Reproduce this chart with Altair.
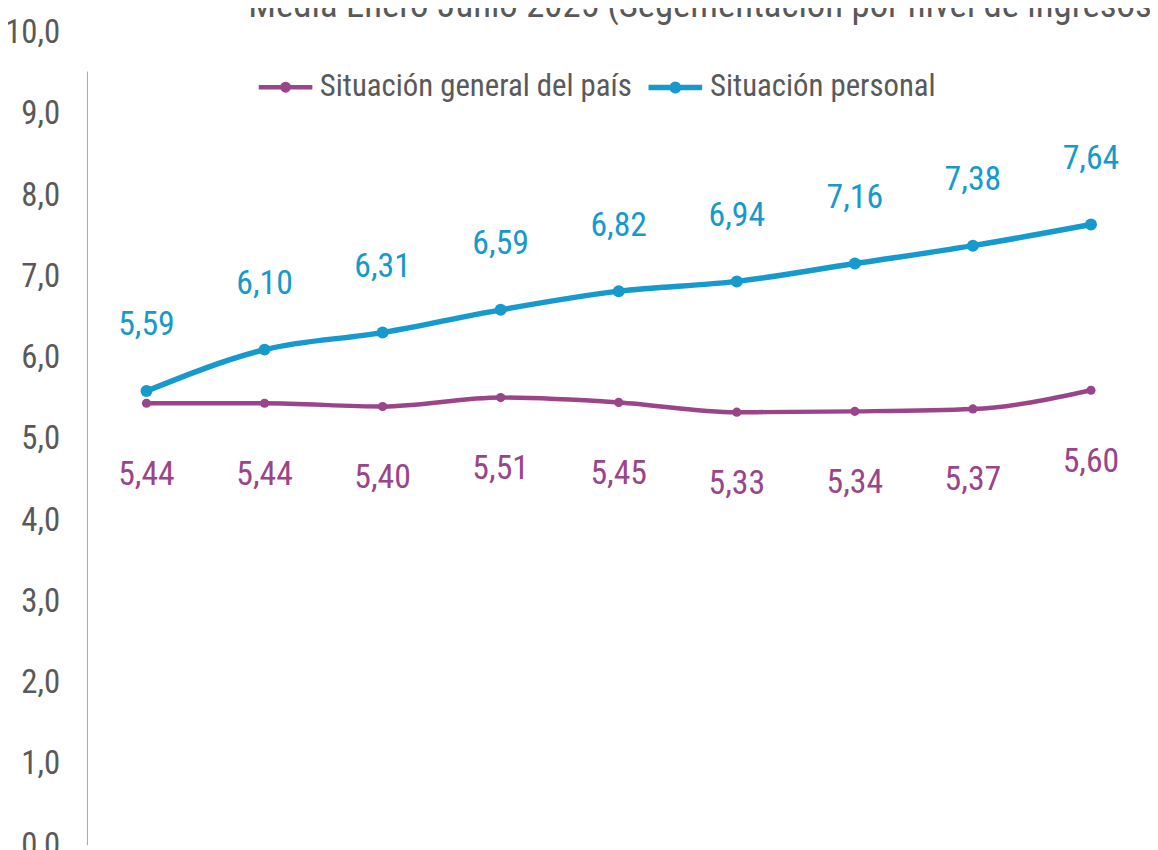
import altair as alt
import pandas as pd

categories = ["1", "2", "3", "4", "5", "6", "7", "8", "9"]
series_names = ["Situación general del país", "Situación personal"]
general = [5.44, 5.44, 5.40, 5.51, 5.45, 5.33, 5.34, 5.37, 5.60]
personal = [5.59, 6.10, 6.31, 6.59, 6.82, 6.94, 7.16, 7.38, 7.64]
y_ticks = [0, 1, 2, 3, 4, 5, 6, 7, 8, 9, 10]
title_text = "Media Enero-Junio 2025 (Segementación por nivel de ingresos)"

rows = []
for i, c in enumerate(categories):
    rows.append({"idx": i + 1, "cat": c, "serie": series_names[0], "valor": general[i]})
    rows.append({"idx": i + 1, "cat": c, "serie": series_names[1], "valor": personal[i]})
df = pd.DataFrame(rows)
df["label"] = df["valor"].map(lambda v: f"{v:.2f}".replace(".", ","))

FONT = "'Liberation Sans Narrow', 'Arial Narrow', 'Roboto Condensed', 'DejaVu Sans Condensed', Roboto, sans-serif"
PURPLE = "#9A4489"
BLUE = "#1699CC"
GRAY = "#595959"

color_scale = alt.Scale(domain=series_names, range=[PURPLE, BLUE])
x_enc = alt.X("idx:Q", scale=alt.Scale(domain=[0.5, 9.5]), axis=None)
y_scale = alt.Scale(domain=[0, 10], nice=False)

base = alt.Chart(df)
gen = base.transform_filter(alt.datum.serie == series_names[0])
per = base.transform_filter(alt.datum.serie == series_names[1])

legend_path = ("M-1,0H1 "
               "M-0.12,0A0.12,0.12 0 1,0 0.12,0A0.12,0.12 0 1,0 -0.12,0")

lines = base.mark_line(interpolate="monotone").encode(
    x=x_enc,
    y=alt.Y("valor:Q", scale=y_scale,
            axis=alt.Axis(values=y_ticks, title=None, domain=False, ticks=False, grid=False,
                          labelExpr="replace(format(datum.value,'.1f'),'.',',')",
                          labelFont=FONT, labelFontSize=33, labelColor=GRAY,
                          labelPadding=28)),
    color=alt.Color("serie:N", scale=color_scale,
                    legend=alt.Legend(orient="none", legendX=170, legendY=25, direction="horizontal",
                                      title=None, symbolType=legend_path, symbolSize=2916,
                                      symbolStrokeWidth=5,
                                      labelFont=FONT, labelFontSize=31, labelColor=GRAY,
                                      labelOffset=5, columnPadding=5, labelLimit=600)),
    strokeWidth=alt.StrokeWidth("serie:N", scale=alt.Scale(domain=series_names, range=[4.5, 5.5]), legend=None),
)

points_gen = gen.mark_point(filled=True, opacity=1, color=PURPLE, size=85).encode(
    x=x_enc, y=alt.Y("valor:Q", scale=y_scale))
points_per = per.mark_point(filled=True, opacity=1, color=BLUE, size=145).encode(
    x=x_enc, y=alt.Y("valor:Q", scale=y_scale))

labels_personal = per.mark_text(
    font=FONT, fontSize=34, dy=-66, color=BLUE
).encode(x=x_enc, y=alt.Y("valor:Q", scale=y_scale), text="label:N")

labels_general = gen.mark_text(
    font=FONT, fontSize=34, dy=72, color=PURPLE
).encode(x=x_enc, y=alt.Y("valor:Q", scale=y_scale), text="label:N")

axis_line = alt.Chart(pd.DataFrame({"a": [0]})).mark_rule(color="#A6A6A6", strokeWidth=1).encode(
    x=alt.value(0), y=alt.value(39), y2=alt.value(818)
)

title = alt.Chart(pd.DataFrame({"t": [title_text]})).mark_text(
    font=FONT, fontSize=37, color=GRAY, align="left", baseline="alphabetic"
).encode(x=alt.value(162), y=alt.value(-16), text="t:N")

chart = alt.layer(axis_line, lines, points_gen, points_per, labels_personal, labels_general, title).properties(
    width=1070, height=818,
    autosize=alt.AutoSizeParams(type="none"),
    padding={"left": 80, "top": 22, "right": 0, "bottom": 20},
).configure_view(stroke=None)

chart.save("out.html", embed_options={"renderer": "svg", "actions": False})
